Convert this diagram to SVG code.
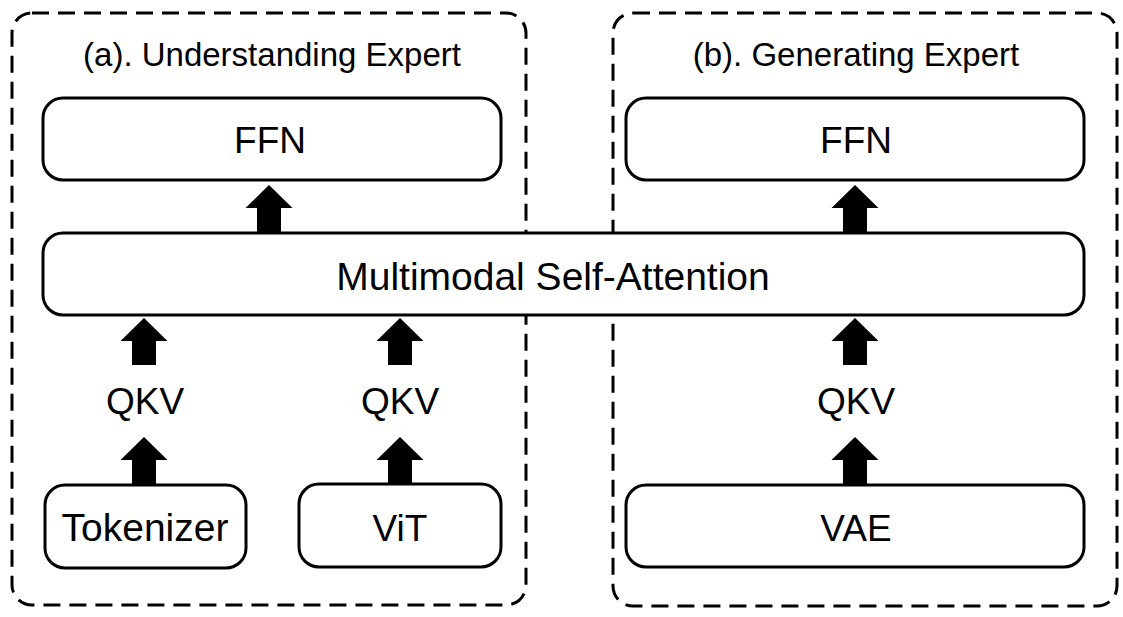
<svg xmlns="http://www.w3.org/2000/svg" width="1123" height="617" viewBox="0 0 1123 617">
<style>
.grp{fill:none;stroke:#000;stroke-width:3;stroke-dasharray:17 9}
.box{fill:#fff;stroke:#000;stroke-width:3}
.t{font-family:"Liberation Sans",Arial,sans-serif;fill:#000;text-anchor:middle}
.lbl{font-size:37px}
.ttl{font-size:33px}
.arr{fill:#000;stroke:none}
</style>
<defs>
<path id="up" d="M0,0 L23.5,23 L12,23 L12,47 L-12,47 L-12,23 L-23.5,23 Z"/>
</defs>
<rect width="1123" height="617" fill="#fff"/>
<g id="expert-a">
<rect class="grp" x="12" y="13" width="514" height="592" rx="20"/>
<text class="t ttl" x="272" y="66">(a). Understanding Expert</text>
</g>
<g id="expert-b">
<rect class="grp" x="613" y="13" width="504" height="593" rx="20"/>
<text class="t ttl" x="856" y="66">(b). Generating Expert</text>
</g>
<g id="ffn-a">
<rect class="box" x="43" y="98" width="458" height="82" rx="20"/>
<text class="t lbl" x="270" y="153">FFN</text>
</g>
<g id="ffn-b">
<rect class="box" x="626" y="98" width="458" height="82" rx="20"/>
<text class="t lbl" x="856" y="153">FFN</text>
</g>
<g id="attention">
<rect class="box" x="43" y="233" width="1041" height="82" rx="20"/>
<text class="t lbl" x="553" y="290" style="font-size:39px">Multimodal Self-Attention</text>
</g>
<g id="qkv-tok"><text class="t lbl" x="145" y="414">QKV</text></g>
<g id="qkv-vit"><text class="t lbl" x="400" y="414">QKV</text></g>
<g id="qkv-vae"><text class="t lbl" x="856" y="414">QKV</text></g>
<g id="tokenizer">
<rect class="box" x="45" y="485" width="201" height="83" rx="20"/>
<text class="t lbl" x="145" y="541" style="font-size:39px">Tokenizer</text>
</g>
<g id="vit">
<rect class="box" x="299" y="484" width="202" height="83" rx="20"/>
<text class="t lbl" x="400" y="541">ViT</text>
</g>
<g id="vae">
<rect class="box" x="626" y="485" width="458" height="82" rx="20"/>
<text class="t lbl" x="856" y="541">VAE</text>
</g>
<g id="connectors" class="arr">
<use href="#up" x="269" y="185"/>
<use href="#up" x="855" y="185"/>
<use href="#up" x="144" y="318"/>
<use href="#up" x="144" y="437"/>
<use href="#up" x="400" y="318"/>
<use href="#up" x="400" y="437"/>
<use href="#up" x="855" y="318"/>
<use href="#up" x="855" y="437"/>
</g>
</svg>
